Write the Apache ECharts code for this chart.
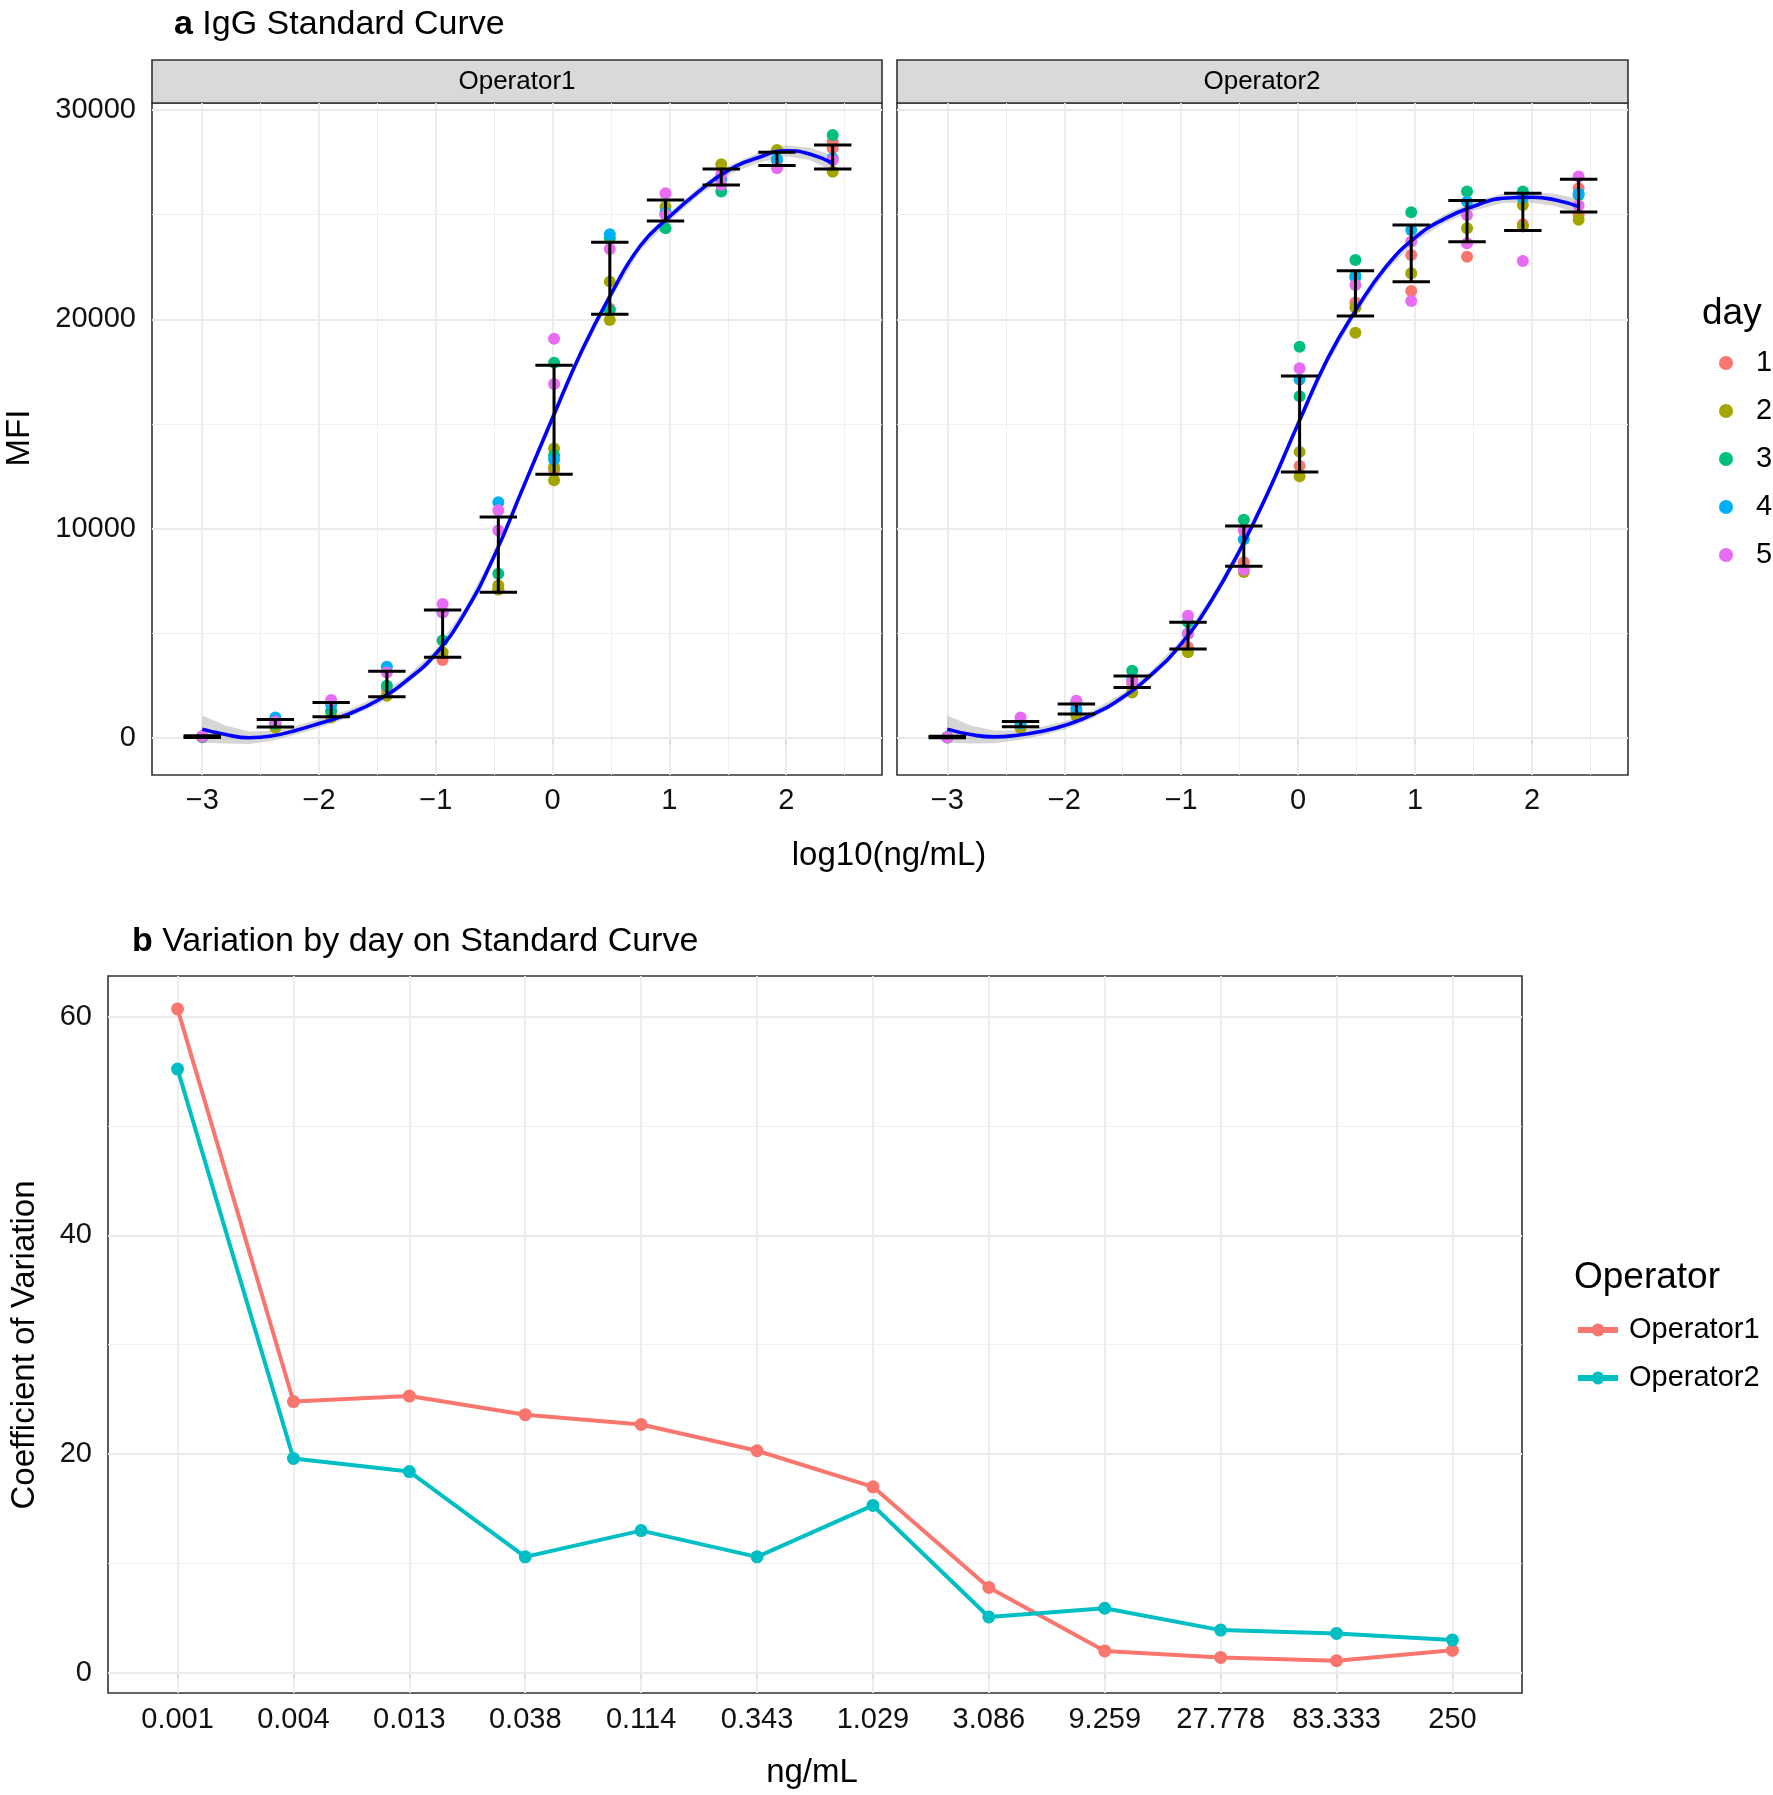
<!DOCTYPE html>
<html><head><meta charset="utf-8">
<script src="https://cdn.jsdelivr.net/npm/echarts@6/dist/echarts.min.js"></script>
<style>html,body{margin:0;padding:0;background:#fff}#c{width:1773px;height:1795px}</style>
</head><body><div id="c"></div>
<script>
const FONT = '"Liberation Sans", Arial, Helvetica, sans-serif';

// ---------- Panel a data ----------
const conc = [0.001, 0.00423, 0.0127, 0.0381, 0.1143, 0.3429, 1.0288, 3.0864, 9.2593, 27.7778, 83.3333, 250];
const logConc = conc.map(Math.log10);
const dayNames = ['1', '2', '3', '4', '5'];
const dayColors = ['#F8766D', '#A3A500', '#00BF7D', '#00B0F6', '#E76BF3'];

const op1Day1 = [60, 700, 1250, 2300, 3730, 7100, 12800, 20500, 25000, 26800, 27600, 28490];
const op1Day2 = [40, 510, 990, 2030, 4100, 7290, 13830, 21800, 25380, 27400, 28090, 27050];
const op1Day3 = [80, 670, 1310, 2500, 4660, 7850, 17930, 23870, 24350, 26100, 27610, 28800];
const op1Day4 = [70, 990, 1600, 3410, 6010, 11260, 13300, 24060, 25100, 26700, 27650, 27690];
const op1Day5 = [90, 800, 1820, 3140, 6410, 10880, 19070, 23360, 26020, 26900, 27210, 27610];
const op1Day1Extra = [[11, 28170]];
const op1Day2Extra = [[5, 7100], [6, 12950], [6, 12310], [7, 19970]];
const op1Day3Extra = [[6, 13510], [7, 20450]];
const op1Day4Extra = [];
const op1Day5Extra = [[4, 6000], [5, 9920], [6, 16910], [8, 24980], [9, 26420]];

const op2Day1 = [50, 650, 1300, 2600, 4340, 8400, 13000, 20800, 23070, 22990, 24540, 26260];
const op2Day2 = [30, 480, 1070, 2180, 4100, 7930, 13670, 20560, 22200, 24350, 25460, 24750];
const op2Day3 = [40, 800, 1700, 3220, 5530, 10430, 18690, 22830, 25110, 26100, 26100, 25940];
const op2Day4 = [45, 700, 1400, 2800, 5000, 9500, 17130, 22000, 24270, 25620, 25800, 26000];
const op2Day5 = [35, 990, 1790, 2740, 5850, 9920, 17660, 21640, 23710, 24980, 22790, 26820];
const op2Day1Extra = [[8, 21350], [11, 24980]];
const op2Day2Extra = [[6, 12500], [7, 19360], [10, 24430]];
const op2Day3Extra = [[6, 16330], [7, 22090]];
const op2Day4Extra = [];
const op2Day5Extra = [[4, 4980], [5, 8040], [8, 20880], [9, 23630], [11, 25430]];

const op1ErrLo = [30, 530, 1020, 1980, 3860, 6970, 12600, 20240, 24700, 26420, 27340, 27180];
const op1ErrHi = [110, 890, 1700, 3190, 6120, 10560, 17810, 23680, 25700, 27180, 27980, 28330];
const op2ErrLo = [20, 540, 1150, 2420, 4260, 8210, 12710, 20160, 21800, 23710, 24240, 25130];
const op2ErrHi = [90, 800, 1630, 2970, 5530, 10130, 17290, 22320, 24510, 25670, 26020, 26690];

const curveX = [-3, -2.8, -2.6, -2.4, -2.2, -2.0, -1.75, -1.5, -1.25, -1.0, -0.75, -0.5, -0.25, 0, 0.25, 0.5, 0.75, 1.0, 1.25, 1.5, 1.75, 2.0, 2.2, 2.4];
const op1Curve = [430, 170, 20, 110, 370, 700, 1150, 1800, 2750, 4030, 6000, 8700, 12000, 15300, 18500, 21200, 23500, 24900, 26100, 27100, 27700, 28050, 27900, 27450];
const op1BandLo = [-220, -260, -280, -130, 160, 500, 960, 1610, 2560, 3830, 5800, 8490, 11790, 15080, 18280, 20990, 23300, 24700, 25900, 26890, 27470, 27790, 27610, 27070];
const op1BandHi = [1080, 600, 320, 350, 580, 900, 1340, 1990, 2940, 4230, 6200, 8910, 12210, 15520, 18720, 21410, 23700, 25100, 26300, 27310, 27930, 28310, 28190, 27830];
const op2Curve = [430, 170, 60, 140, 320, 600, 1150, 1950, 3060, 4500, 6490, 8960, 11830, 15020, 18100, 20500, 22500, 23900, 24800, 25400, 25780, 25830, 25700, 25380];
const op2BandLo = [-220, -260, -240, -100, 110, 400, 960, 1760, 2870, 4300, 6290, 8750, 11620, 14800, 17880, 20290, 22300, 23700, 24600, 25190, 25550, 25570, 25410, 25000];
const op2BandHi = [1080, 600, 360, 380, 530, 800, 1340, 2140, 3250, 4700, 6690, 9170, 12040, 15240, 18320, 20710, 22700, 24100, 25000, 25610, 26010, 26090, 25990, 25760];

const aXTicks = [-3, -2, -1, 0, 1, 2];
const aXTickLabels = ['\u22123', '\u22122', '\u22121', '0', '1', '2'];
const aXMinor = [-2.5, -1.5, -0.5, 0.5, 1.5, 2.5];
const aYTicks = [0, 10000, 20000, 30000];
const aYTickLabels = ['0', '10000', '20000', '30000'];
const aYMinor = [5000, 15000, 25000];

// ---------- Panel b data ----------
const cvLabels = ['0.001', '0.004', '0.013', '0.038', '0.114', '0.343', '1.029', '3.086', '9.259', '27.778', '83.333', '250'];
const cvIdx = [0, 1, 2, 3, 4, 5, 6, 7, 8, 9, 10, 11];
const cvOp1 = [60.7, 24.8, 25.3, 23.6, 22.7, 20.3, 17.0, 7.8, 2.0, 1.4, 1.1, 2.05];
const cvOp2 = [55.2, 19.6, 18.4, 10.6, 13.0, 10.6, 15.3, 5.1, 5.9, 3.9, 3.6, 3.0];
const bYTicks = [0, 20, 40, 60];
const bYTickLabels = ['0', '20', '40', '60'];
const bYMinor = [10, 30, 50];
const opNames = ['Operator1', 'Operator2'];
const opColors = ['#F8766D', '#00BFC4'];

// ---------- helpers ----------
const CAP = 0.16;
const TICK_FONT = 29;
function lab(ticks, labels) {
  return v => { const i = ticks.findIndex(t => Math.abs(t - v) < 1e-6); return i >= 0 ? labels[i] : ''; };
}
function axis(gridIndex, min, max, ticks, labels, show, margin) {
  return {
    type: 'value', gridIndex, min, max,
    axisLine: { show: false },
    axisTick: { show: show, customValues: ticks, length: 6, lineStyle: { color: '#333', width: 1.5 } },
    axisLabel: { show: show, customValues: ticks, margin, fontFamily: FONT, fontSize: TICK_FONT, color: '#111', formatter: lab(ticks, labels) },
    splitLine: { show: false }
  };
}
function gridLines(xi, yi, xMajor, xMinor, yMajor, yMinor, pts) {
  const major = { color: '#EBEBEB', width: 1.8, type: 'solid' };
  const minor = { color: '#EFEFEF', width: 1.0, type: 'solid' };
  const d = [];
  xMinor.forEach(v => d.push({ xAxis: v, lineStyle: minor }));
  yMinor.forEach(v => d.push({ yAxis: v, lineStyle: minor }));
  xMajor.forEach(v => d.push({ xAxis: v, lineStyle: major }));
  yMajor.forEach(v => d.push({ yAxis: v, lineStyle: major }));
  return { type: 'line', xAxisIndex: xi, yAxisIndex: yi, z: 1, silent: true, data: pts, symbol: 'none',
    lineStyle: { opacity: 0 }, markLine: { z: 1, zlevel: 0, silent: true, symbol: ['none', 'none'], label: { show: false }, animation: false, data: d } };
}
function band(lo, hi, xi, yi) {
  return { type: 'custom', xAxisIndex: xi, yAxisIndex: yi, z: 2, silent: true,
    data: curveX.map((x, i) => [x, lo[i], hi[i]]), encode: { x: 0, y: [1, 2] },
    renderItem(params, api) {
      if (params.dataIndex !== 0) return null;
      const pts = [];
      for (let i = 0; i < curveX.length; i++) pts.push(api.coord([curveX[i], hi[i]]));
      for (let i = curveX.length - 1; i >= 0; i--) pts.push(api.coord([curveX[i], lo[i]]));
      return { type: 'polygon', shape: { points: pts }, style: { fill: 'rgba(153,153,153,0.4)' } };
    } };
}
function curve(vals, xi, yi) {
  return { type: 'line', xAxisIndex: xi, yAxisIndex: yi, z: 4, silent: true, smooth: 0.5, showSymbol: false, symbol: 'none',
    data: curveX.map((x, i) => [x, vals[i]]), lineStyle: { color: '#0000FF', width: 3.6 } };
}
function errbars(lo, hi, xi, yi) {
  return { type: 'custom', xAxisIndex: xi, yAxisIndex: yi, z: 5, silent: true,
    data: logConc.map((x, i) => [x, lo[i], hi[i]]), encode: { x: 0, y: [1, 2] },
    renderItem(params, api) {
      const x = api.value(0), l = api.value(1), h = api.value(2);
      const p1 = api.coord([x, l]), p2 = api.coord([x, h]);
      const w = api.size([CAP, 0])[0];
      const st = { stroke: '#000', lineWidth: 3 };
      return { type: 'group', children: [
        { type: 'line', shape: { x1: p1[0], y1: p1[1], x2: p2[0], y2: p2[1] }, style: st },
        { type: 'line', shape: { x1: p1[0] - w, y1: p1[1], x2: p1[0] + w, y2: p1[1] }, style: st },
        { type: 'line', shape: { x1: p2[0] - w, y1: p2[1], x2: p2[0] + w, y2: p2[1] }, style: st }
      ] };
    } };
}
function dayScatter(d, main, extra, xi, yi) {
  const data = main.map((v, i) => [logConc[i], v]).concat(extra.map(e => [logConc[e[0]], e[1]]));
  return { type: 'scatter', name: dayNames[d], xAxisIndex: xi, yAxisIndex: yi, z: 3, silent: true,
    symbol: 'circle', symbolSize: 12, data, itemStyle: { color: dayColors[d], borderWidth: 0, opacity: 1 } };
}

const op1Main = [op1Day1, op1Day2, op1Day3, op1Day4, op1Day5];
const op1Extra = [op1Day1Extra, op1Day2Extra, op1Day3Extra, op1Day4Extra, op1Day5Extra];
const op2Main = [op2Day1, op2Day2, op2Day3, op2Day4, op2Day5];
const op2Extra = [op2Day1Extra, op2Day2Extra, op2Day3Extra, op2Day4Extra, op2Day5Extra];

const series = [];
series.push(gridLines(0, 0, aXTicks, aXMinor, aYTicks, aYMinor, curveX.map((x, i) => [x, op1Curve[i]])));
series.push(gridLines(1, 1, aXTicks, aXMinor, aYTicks, aYMinor, curveX.map((x, i) => [x, op2Curve[i]])));
series.push(gridLines(2, 2, cvIdx, [], bYTicks, bYMinor, cvIdx.map(i => [i, cvOp1[i]])));
series.push(band(op1BandLo, op1BandHi, 0, 0));
series.push(band(op2BandLo, op2BandHi, 1, 1));
for (let d = 0; d < 5; d++) series.push(dayScatter(d, op1Main[d], op1Extra[d], 0, 0));
for (let d = 0; d < 5; d++) series.push(dayScatter(d, op2Main[d], op2Extra[d], 1, 1));
series.push(curve(op1Curve, 0, 0));
series.push(curve(op2Curve, 1, 1));
series.push(errbars(op1ErrLo, op1ErrHi, 0, 0));
series.push(errbars(op2ErrLo, op2ErrHi, 1, 1));
[cvOp1, cvOp2].forEach((vals, k) => {
  series.push({ type: 'line', name: opNames[k], xAxisIndex: 2, yAxisIndex: 2, z: 4, silent: true,
    data: cvIdx.map(i => [i, vals[i]]), symbol: 'circle', symbolSize: 13, showSymbol: true,
    lineStyle: { color: opColors[k], width: 4 }, itemStyle: { color: opColors[k], borderWidth: 0 } });
});

const txt = (text, x, y, size, opts = {}) => Object.assign({
  type: 'text', x, y, rotation: opts.rot || 0, silent: true,
  style: { text, fontFamily: FONT, fontSize: size, fill: '#000', textAlign: opts.align || 'center', textVerticalAlign: 'middle',
    align: opts.align || 'center', verticalAlign: 'middle', rich: opts.rich }
});

const option = {
  animation: false,
  backgroundColor: '#ffffff',
  grid: [
    { left: 152, top: 103, width: 730, height: 672, show: true, borderColor: '#333', borderWidth: 1.6, backgroundColor: '#fff', outerBoundsMode: 'none', containLabel: false },
    { left: 897, top: 103, width: 731, height: 672, show: true, borderColor: '#333', borderWidth: 1.6, backgroundColor: '#fff', outerBoundsMode: 'none', containLabel: false },
    { left: 108, top: 976, width: 1414, height: 717, show: true, borderColor: '#333', borderWidth: 1.6, backgroundColor: '#fff', outerBoundsMode: 'none', containLabel: false }
  ],
  xAxis: [
    axis(0, -3.43, 2.82, aXTicks, aXTickLabels, true, 11),
    axis(1, -3.43, 2.82, aXTicks, aXTickLabels, true, 11),
    axis(2, -0.6, 11.6, cvIdx, cvLabels, true, 12)
  ],
  yAxis: [
    axis(0, -1760, 30330, aYTicks, aYTickLabels, true, 16),
    axis(1, -1760, 30330, aYTicks, aYTickLabels, false, 16),
    axis(2, -1.85, 63.71, bYTicks, bYTickLabels, true, 16)
  ],
  legend: [
    { data: dayNames, orient: 'vertical', left: 1719, top: 348, padding: 0, icon: 'circle', itemWidth: 50, itemHeight: 14, itemGap: 18,
      selectedMode: false, textStyle: { fontFamily: FONT, fontSize: 29, lineHeight: 30, color: '#000' } },
    { data: opNames, orient: 'vertical', left: 1575, top: 1315, padding: 0, itemWidth: 40, itemHeight: 16, itemGap: 18,
      selectedMode: false, lineStyle: { width: 6 }, textStyle: { fontFamily: FONT, fontSize: 29, lineHeight: 30, color: '#000', padding: [0, 0, 0, 6] } }
  ],
  graphic: [
    txt('{b|a} IgG Standard Curve', 174, 25, 34, { align: 'left', rich: { b: { fontWeight: 'bold', fontFamily: FONT, fontSize: 34 } } }),
    txt('{b|b} Variation by day on Standard Curve', 132, 942, 34, { align: 'left', rich: { b: { fontWeight: 'bold', fontFamily: FONT, fontSize: 34 } } }),
    { type: 'rect', silent: true, shape: { x: 152, y: 60, width: 730, height: 43 }, style: { fill: '#D9D9D9', stroke: '#333', lineWidth: 1.6 } },
    { type: 'rect', silent: true, shape: { x: 897, y: 60, width: 731, height: 43 }, style: { fill: '#D9D9D9', stroke: '#333', lineWidth: 1.6 } },
    txt('Operator1', 517, 82, 26),
    txt('Operator2', 1262, 82, 26),
    txt('MFI', 20, 438, 33, { rot: Math.PI / 2 }),
    txt('log10(ng/mL)', 889, 856, 33),
    txt('Coefficient of Variation', 25, 1345, 33, { rot: Math.PI / 2 }),
    txt('ng/mL', 812, 1773, 33),
    txt('day', 1702, 314, 37, { align: 'left' }),
    txt('Operator', 1574, 1278, 37, { align: 'left' })
  ],
  series
};
const chart = echarts.init(document.getElementById('c'), null, { renderer: 'canvas', width: 1773, height: 1795 });
chart.setOption(option);
</script>
</body></html>
